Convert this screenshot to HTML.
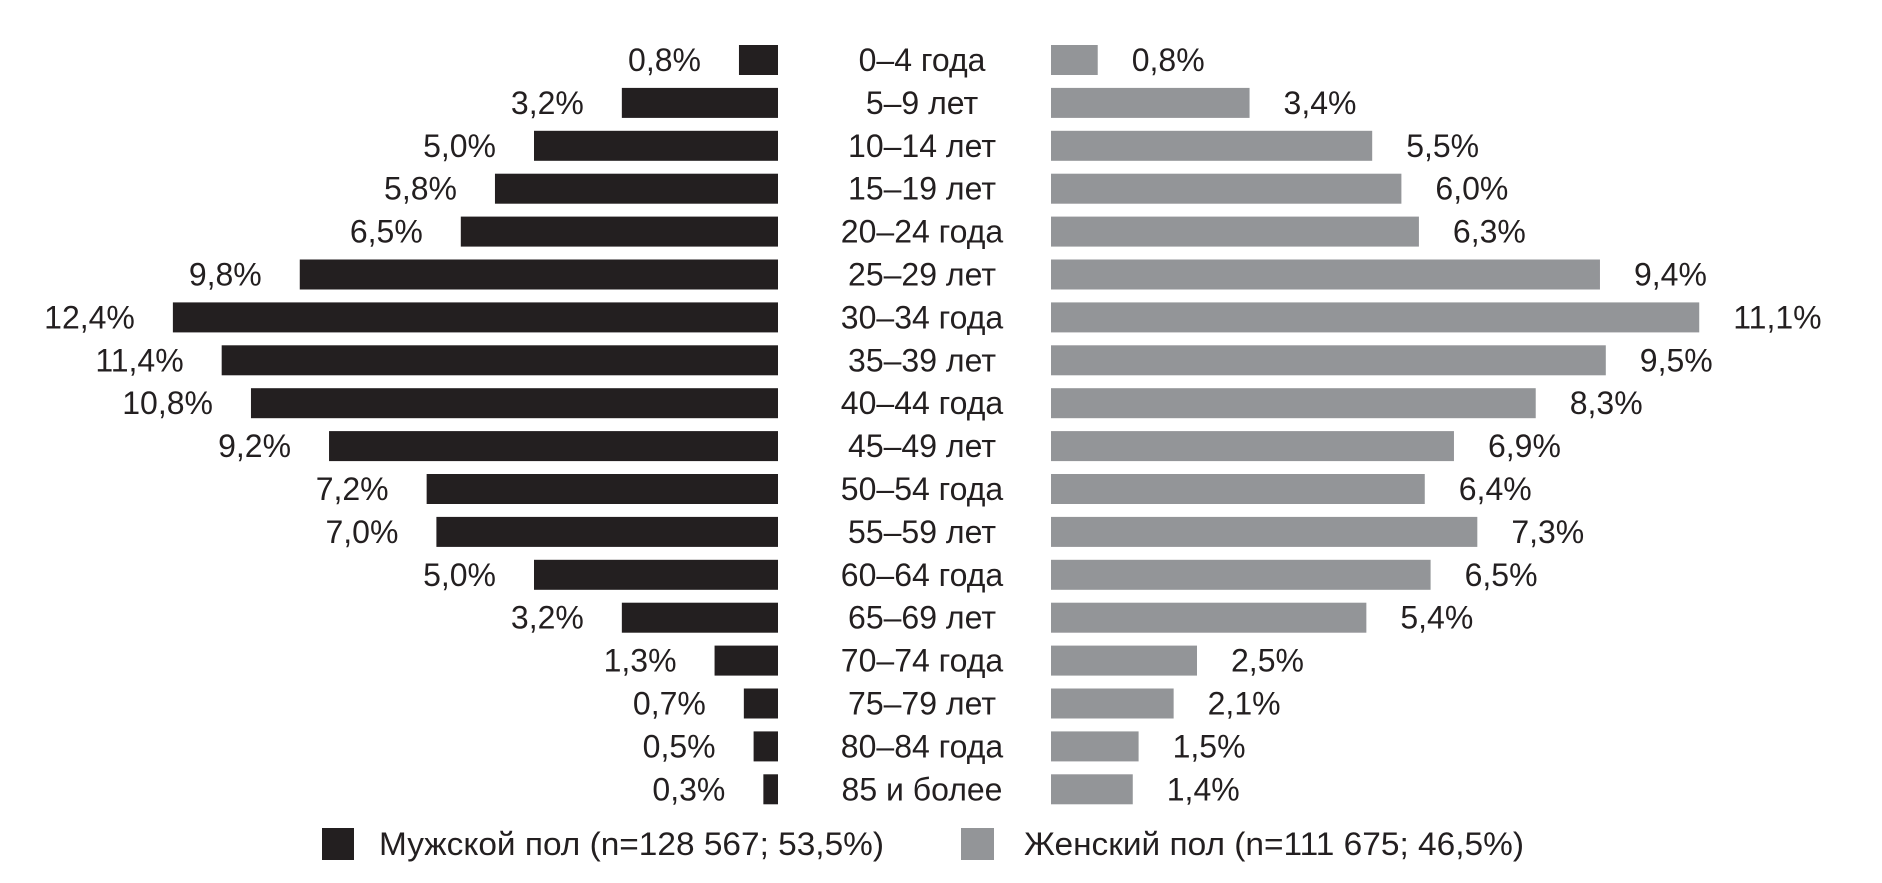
<!DOCTYPE html>
<html><head><meta charset="utf-8"><style>
html,body{margin:0;padding:0;background:#fff;}
svg text{font-family:"Liberation Sans Narrow","Liberation Sans",sans-serif;font-size:32px;fill:#231f20;}
</style></head><body>
<svg width="1882" height="878" xmlns="http://www.w3.org/2000/svg" id="s"></svg>
<script>
const labels=["0–4 года","5–9 лет","10–14 лет","15–19 лет","20–24 года","25–29 лет","30–34 года","35–39 лет","40–44 года","45–49 лет","50–54 года","55–59 лет","60–64 года","65–69 лет","70–74 года","75–79 лет","80–84 года","85 и более"];
const m=[0.8,3.2,5.0,5.8,6.5,9.8,12.4,11.4,10.8,9.2,7.2,7.0,5.0,3.2,1.3,0.7,0.5,0.3];
const f=[0.8,3.4,5.5,6.0,6.3,9.4,11.1,9.5,8.3,6.9,6.4,7.3,6.5,5.4,2.5,2.1,1.5,1.4];
let h='';
const fmt=v=>v.toFixed(1).replace('.',',')+'%';
for(let i=0;i<18;i++){
 const cy=60+i*42.9, y=cy-15;
 const mw=m[i]*48.8, fw=f[i]*58.4;
 h+=`<rect x="${778-mw}" y="${y}" width="${mw}" height="30" fill="#231f20"/>`;
 h+=`<rect x="1051" y="${y}" width="${fw}" height="30" fill="#939598"/>`;
 h+=`<text x="${778-mw-38}" y="${cy+11}" text-anchor="end">${fmt(m[i])}</text>`;
 h+=`<text x="${1051+fw+34}" y="${cy+11}">${fmt(f[i])}</text>`;
 h+=`<text x="922" y="${cy+11}" text-anchor="middle">${labels[i]}</text>`;
}
h+=`<rect x="322" y="828" width="32" height="32" fill="#231f20"/><text x="379" y="855" textLength="505" lengthAdjust="spacingAndGlyphs">Мужской пол (n=128 567; 53,5%)</text>`;
h+=`<rect x="961" y="828" width="33" height="32" fill="#939598"/><text x="1024" y="855" textLength="500" lengthAdjust="spacingAndGlyphs">Женский пол (n=111 675; 46,5%)</text>`;
document.getElementById('s').innerHTML=h;
</script>
</body></html>
